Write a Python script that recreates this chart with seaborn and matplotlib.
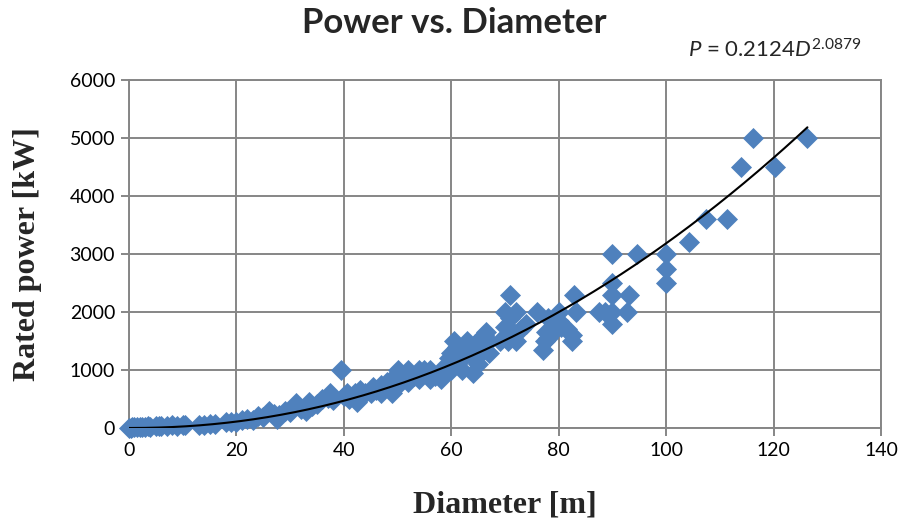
import numpy as np
import pandas as pd
import matplotlib
matplotlib.use("Agg")
import matplotlib.pyplot as plt
import seaborn as sns

# ---- data ----
diameter = [0, 0.3, 0.6, 1, 1.5, 2, 2.5, 3, 3.5, 4, 5, 5.5, 6, 7, 8, 9, 10, 10.5,
            13, 14, 15, 16, 18, 19, 20, 21, 22, 23, 24, 25, 26, 27, 27.5, 28, 29,
            30, 30.5, 31, 32, 33, 33.5, 34, 35, 36, 37, 37.5, 38, 39.5,
            40, 40.5, 41, 42, 42.5, 43, 44, 45, 45.5, 46, 47, 47, 48, 48, 49, 49,
            50, 50, 50, 51, 52, 52, 53, 54, 54, 55, 56, 56, 57, 58, 58, 59, 59.5,
            60, 60, 60.5, 61, 61, 62, 62, 63, 63, 64, 64, 64.5, 65, 65, 66, 66,
            66.5, 67, 67,
            69, 70, 70, 70.5, 71, 71, 71.5, 72, 72, 73, 74, 76, 77, 77.5, 77.6,
            78, 78,
            79.5, 80, 80, 80.5, 81.5, 82.5, 82.5, 82.9, 83.2, 87.5, 88.7, 90, 90,
            90, 90, 90, 92.8, 93, 94.5,
            100, 100, 100, 104.3, 107.4, 111.4, 114, 116.2, 120.3, 126.3]
power = [0, 5, 10, 10, 15, 20, 20, 25, 30, 25, 30, 35, 40, 30, 50, 40, 50, 60,
         55, 60, 65, 75, 100, 110, 100, 140, 150, 130, 200, 190, 300, 250, 150, 220, 300,
         280, 350, 430, 320, 300, 450, 380, 420, 500, 520, 600, 480, 1000,
         550, 600, 500, 600, 450, 650, 600, 600, 700, 650, 600, 750, 800, 700, 600, 850,
         1000, 900, 750, 850, 800, 1000, 900, 1000, 850, 1000, 850, 1000, 900, 1000, 850, 1000, 1200,
         1000, 1300, 1500, 1100, 1400, 1200, 1000, 1300, 1500, 950, 1200, 1450, 1500, 1100, 1600, 1350,
         1650, 1300, 1500,
         1500, 1750, 2000, 1500, 2300, 1900, 1650, 2000, 1500, 1700, 1800, 2000, 1350, 1500, 1650,
         1550, 1900,
         1700, 2000, 1850, 1750, 1700, 1500, 1600, 2300, 2000, 2000, 2000, 3000, 2500,
         2300, 2000, 1800, 2000, 2300, 3000,
         3000, 2750, 2500, 3200, 3600, 3600, 4500, 5000, 4500, 5000]

# trendline coefficients as printed on the chart: P = a * D^b
fit_a = 0.2124
fit_b = 2.0879

x_ticks = [0, 20, 40, 60, 80, 100, 120, 140]
y_ticks = [0, 1000, 2000, 3000, 4000, 5000, 6000]

df = pd.DataFrame({"Diameter": diameter, "Power": power})
d_line = np.linspace(0, max(diameter), 300)
line_df = pd.DataFrame({"Diameter": d_line, "Power": fit_a * d_line ** fit_b})

sns.set_theme(style="white")
plt.rcParams["font.family"] = ["Lato", "DejaVu Sans"]
plt.rcParams["mathtext.fontset"] = "custom"
plt.rcParams["mathtext.it"] = "Lato:italic"
plt.rcParams["mathtext.rm"] = "Lato"

fig = plt.figure(figsize=(9.08, 5.24), dpi=100)
ax = fig.add_axes([129 / 908, 1 - 428 / 524, (881 - 129) / 908, (428 - 80) / 524])

grid_c = "#868686"
sns.scatterplot(data=df, x="Diameter", y="Power", marker="D", s=115,
                color="#4F81BD", linewidth=0, ax=ax, zorder=3, clip_on=False)
sns.lineplot(data=line_df, x="Diameter", y="Power", color="black", linewidth=1.5,
             ax=ax, zorder=4)

ax.set_xlim(0, 140)
ax.set_ylim(0, 6000)
ax.set_xticks(x_ticks)
ax.set_yticks(y_ticks)
ax.set_xticklabels([str(t) for t in x_ticks])
ax.set_yticklabels([str(t) for t in y_ticks])
ax.grid(True, color=grid_c, linewidth=1.4)
ax.set_axisbelow(True)
for sp in ax.spines.values():
    sp.set_color(grid_c)
    sp.set_linewidth(1.4)
ax.tick_params(axis="both", direction="out", length=6, width=1.4, color=grid_c,
               labelsize=14, labelcolor="black", pad=4, bottom=True, left=True)

ax.set_xlabel("Diameter [m]", fontfamily="Liberation Serif", fontweight="bold",
              fontsize=23, labelpad=23)
ax.set_ylabel("Rated power [kW]", fontfamily="Liberation Serif", fontweight="bold",
              fontsize=23, labelpad=20)

fig.text(0.5, 1 - 23 / 524, "Power vs. Diameter", ha="center", va="center",
         fontsize=25, fontweight="bold")
fig.text(862 / 908, 1 - 50 / 524, r"$P$ = 0.2124$D^{2.0879}$", ha="right",
         va="center", fontsize=16)

fig.savefig("out.png", dpi=100)
